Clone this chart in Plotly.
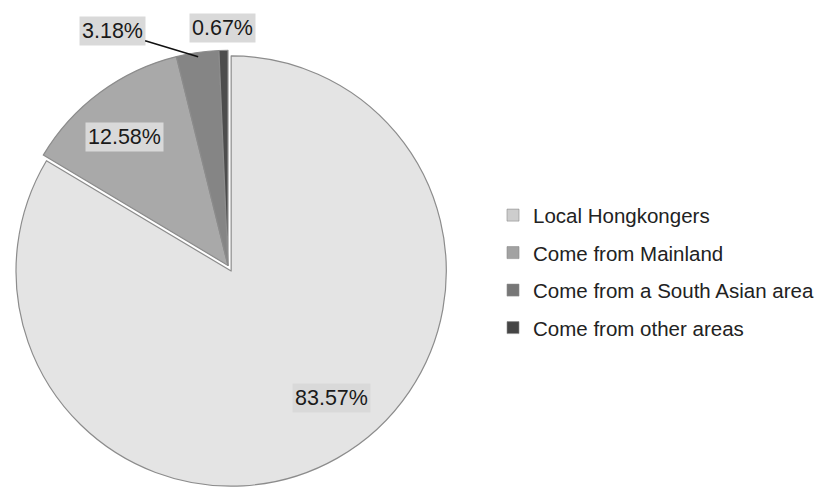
import math
import plotly.graph_objects as go

# ---- data ----
categories = ["Local Hongkongers", "Come from Mainland",
              "Come from a South Asian area", "Come from other areas"]
shares = [83.57, 12.58, 3.18, 0.67]
label_text = ["83.57%", "12.58%", "3.18%", "0.67%"]

# ---- style ----
slice_colors = ["#e4e4e4", "#a9a9a9", "#858585", "#4d4d4d"]
legend_colors = ["#cdcdcd", "#a2a2a2", "#777777", "#454545"]
pulls = [0.03, 0, 0, 0]
label_radius = [0.774, 0.768, 0.98, 1.106]
label_xshift = [21, -5, 0, 0]
label_yshift = [12, -4, 0, 0]
label_arrow = [None, None, (-86, -26), None]

W, H = 818, 487
dom_x = [0.0078, 0.5496]
dom_y = [0.0, 0.91]
FONT = "Liberation Sans, Arial, Helvetica, sans-serif"

fig = go.Figure()
fig.add_trace(go.Pie(
    labels=categories, values=shares, sort=False, direction="clockwise",
    rotation=0, pull=pulls, textinfo="none", hoverinfo="label+percent",
    marker=dict(colors=slice_colors, line=dict(color="#8c8c8c", width=1.2)),
    showlegend=False, domain=dict(x=dom_x, y=dom_y),
))

# legend entries
for i, (name, col) in enumerate(zip(categories, legend_colors)):
    fig.add_trace(go.Scatter(
        x=[None], y=[None], mode="markers", name=name, legendgroup=f"g{i}",
        marker=dict(symbol="square", size=12, color=col,
                    line=dict(color="#8a8a8a", width=0.6)),
        showlegend=True, hoverinfo="skip",
    ))

# percentage labels placed from the slice geometry
cx = W * (dom_x[0] + dom_x[1]) / 2
cy = H * (1 - (dom_y[0] + dom_y[1]) / 2)
r = min(W * (dom_x[1] - dom_x[0]), H * (dom_y[1] - dom_y[0])) / 2 / (1 + max(pulls))
total = sum(shares)
start = 0.0
annotations = []
for i, v in enumerate(shares):
    span = v / total * 360.0
    mid = math.radians(start + span / 2)
    start += span
    px = cx + label_radius[i] * r * math.sin(mid)
    py = cy - label_radius[i] * r * math.cos(mid)
    ann = dict(
        x=px / W, y=1 - py / H, xref="paper", yref="paper",
        text=label_text[i], font=dict(family=FONT, size=21.5, color="#1a1a1a"),
        bgcolor="#d9d9d9", borderpad=2,
        xshift=label_xshift[i], yshift=label_yshift[i],
    )
    if label_arrow[i] is not None:
        ann.update(showarrow=True, ax=label_arrow[i][0], ay=label_arrow[i][1],
                   arrowhead=0, arrowwidth=1.6, arrowcolor="#111111")
    else:
        ann.update(showarrow=False, xanchor="center", yanchor="middle")
    annotations.append(ann)

fig.update_xaxes(visible=False)
fig.update_yaxes(visible=False)
fig.update_layout(
    width=W, height=H, margin=dict(l=0, r=0, t=0, b=0, autoexpand=False),
    paper_bgcolor="white", plot_bgcolor="white",
    font=dict(family=FONT, size=20.5, color="#222222"),
    legend=dict(x=0.6027, y=0.599, xanchor="left", yanchor="top",
                font=dict(family=FONT, size=20.5, color="#222222"),
                tracegroupgap=7.85, bgcolor="rgba(0,0,0,0)"),
    annotations=annotations,
)

fig.write_html("out.html")
